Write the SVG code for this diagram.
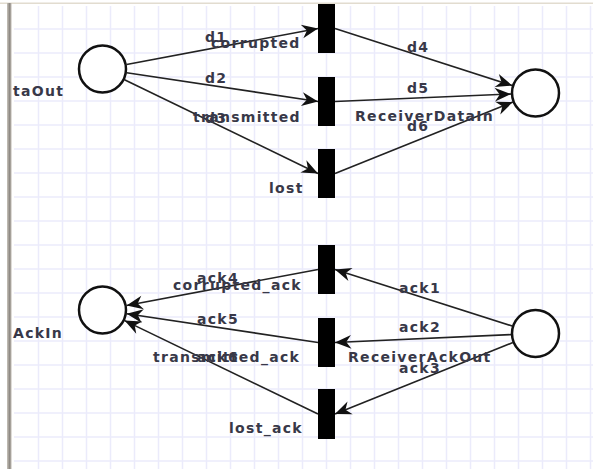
<svg xmlns="http://www.w3.org/2000/svg" width="593" height="469" viewBox="0 0 593 469">
<defs>
<style>
.grid line{stroke:#ebebfb;stroke-width:1.5}
.place circle{fill:#fff;stroke:#111;stroke-width:2.5}
.trans rect{fill:#000}
.arc{stroke:#222;stroke-width:1.6;fill:none;marker-end:url(#arr)}
text{font-family:"DejaVu Sans","Liberation Sans",sans-serif;font-weight:bold;font-size:14px;letter-spacing:1.3px;fill:#383848}
</style>
<marker id="arr" markerUnits="userSpaceOnUse" markerWidth="20" markerHeight="20" viewBox="-14 -7 16 14" refX="0" refY="0" orient="auto">
<path d="M0,0 L-13,-5.5 L-9,0 L-13,5.5 Z" fill="#111"/>
</marker>
</defs>
<rect width="593" height="469" fill="#fff"/>
<g class="grid">
<line x1="38.5" y1="6" x2="38.5" y2="469"/><line x1="62.5" y1="6" x2="62.5" y2="469"/><line x1="86.5" y1="6" x2="86.5" y2="469"/><line x1="110.5" y1="6" x2="110.5" y2="469"/><line x1="134.5" y1="6" x2="134.5" y2="469"/><line x1="158.5" y1="6" x2="158.5" y2="469"/><line x1="182.5" y1="6" x2="182.5" y2="469"/><line x1="206.5" y1="6" x2="206.5" y2="469"/><line x1="230.5" y1="6" x2="230.5" y2="469"/><line x1="254.5" y1="6" x2="254.5" y2="469"/><line x1="278.5" y1="6" x2="278.5" y2="469"/><line x1="302.5" y1="6" x2="302.5" y2="469"/><line x1="326.5" y1="6" x2="326.5" y2="469"/><line x1="350.5" y1="6" x2="350.5" y2="469"/><line x1="374.5" y1="6" x2="374.5" y2="469"/><line x1="398.5" y1="6" x2="398.5" y2="469"/><line x1="422.5" y1="6" x2="422.5" y2="469"/><line x1="446.5" y1="6" x2="446.5" y2="469"/><line x1="470.5" y1="6" x2="470.5" y2="469"/><line x1="494.5" y1="6" x2="494.5" y2="469"/><line x1="518.5" y1="6" x2="518.5" y2="469"/><line x1="542.5" y1="6" x2="542.5" y2="469"/><line x1="566.5" y1="6" x2="566.5" y2="469"/><line x1="590.5" y1="6" x2="590.5" y2="469"/>
<line x1="14" y1="29" x2="593" y2="29"/><line x1="14" y1="53" x2="593" y2="53"/><line x1="14" y1="77" x2="593" y2="77"/><line x1="14" y1="101" x2="593" y2="101"/><line x1="14" y1="125" x2="593" y2="125"/><line x1="14" y1="149" x2="593" y2="149"/><line x1="14" y1="173" x2="593" y2="173"/><line x1="14" y1="197" x2="593" y2="197"/><line x1="14" y1="221" x2="593" y2="221"/><line x1="14" y1="245" x2="593" y2="245"/><line x1="14" y1="269" x2="593" y2="269"/><line x1="14" y1="293" x2="593" y2="293"/><line x1="14" y1="317" x2="593" y2="317"/><line x1="14" y1="341" x2="593" y2="341"/><line x1="14" y1="365" x2="593" y2="365"/><line x1="14" y1="389" x2="593" y2="389"/><line x1="14" y1="413" x2="593" y2="413"/><line x1="14" y1="437" x2="593" y2="437"/><line x1="14" y1="461" x2="593" y2="461"/>
</g>
<rect x="0" y="2.5" width="593" height="1.5" fill="#e2dccf"/>
<rect x="7" y="3" width="4.5" height="466" fill="#bdb8b0"/>
<rect x="8.5" y="3" width="2" height="466" fill="#8f8a84"/>

<g id="connectors">
<line class="arc" x1="126.6" y1="64.5" x2="318" y2="28.5"/>
<line class="arc" x1="126.7" y1="72.7" x2="318" y2="101.5"/>
<line class="arc" x1="124.5" y1="79.7" x2="318" y2="173.5"/>
<line class="arc" x1="335" y1="28.5" x2="512.2" y2="85.5"/>
<line class="arc" x1="335" y1="101.5" x2="511" y2="94"/>
<line class="arc" x1="335" y1="173.5" x2="512.8" y2="102.1"/>
<line class="arc" x1="512.2" y1="326" x2="335" y2="269.5"/>
<line class="arc" x1="511" y1="334.6" x2="335" y2="342.5"/>
<line class="arc" x1="512.8" y1="342.6" x2="335" y2="414"/>
<line class="arc" x1="318" y1="269.5" x2="126.6" y2="305.5"/>
<line class="arc" x1="318" y1="342.5" x2="126.7" y2="313.7"/>
<line class="arc" x1="318" y1="414" x2="124.6" y2="320.6"/>
</g>
<g id="arc-labels">
<text x="205" y="42">d1</text>
<text x="205" y="83">d2</text>
<text x="205" y="123">d3</text>
<text x="407" y="52">d4</text>
<text x="407" y="93">d5</text>
<text x="407" y="131">d6</text>
<text x="399" y="293">ack1</text>
<text x="399" y="332">ack2</text>
<text x="399" y="373">ack3</text>
<text x="197" y="283">ack4</text>
<text x="197" y="324">ack5</text>
<text x="197" y="362">ack6</text>
</g>

<g id="SenderDataOut" class="place"><circle cx="102.5" cy="69" r="23.5"/><text x="13" y="96">taOut</text></g>
<g id="ReceiverDataIn" class="place"><circle cx="535.5" cy="93" r="23.5"/><text x="355" y="121">ReceiverDataIn</text></g>
<g id="AckIn" class="place"><circle cx="102.5" cy="310" r="23.5"/><text x="13" y="338">AckIn</text></g>
<g id="ReceiverAckOut" class="place"><circle cx="535.5" cy="333.5" r="23.5"/><text x="348" y="362">ReceiverAckOut</text></g>

<g id="corrupted" class="trans"><rect x="318" y="4" width="17" height="49"/><text x="211" y="48">corrupted</text></g>
<g id="transmitted" class="trans"><rect x="318" y="77" width="17" height="49"/><text x="193" y="122">transmitted</text></g>
<g id="lost" class="trans"><rect x="318" y="149" width="17" height="49"/><text x="269" y="193">lost</text></g>
<g id="corrupted_ack" class="trans"><rect x="318" y="245" width="17" height="49"/><text x="173" y="290">corrupted_ack</text></g>
<g id="transmitted_ack" class="trans"><rect x="318" y="318" width="17" height="49"/><text x="153" y="362">transmitted_ack</text></g>
<g id="lost_ack" class="trans"><rect x="318" y="389" width="17" height="50"/><text x="229" y="433">lost_ack</text></g>
</svg>
